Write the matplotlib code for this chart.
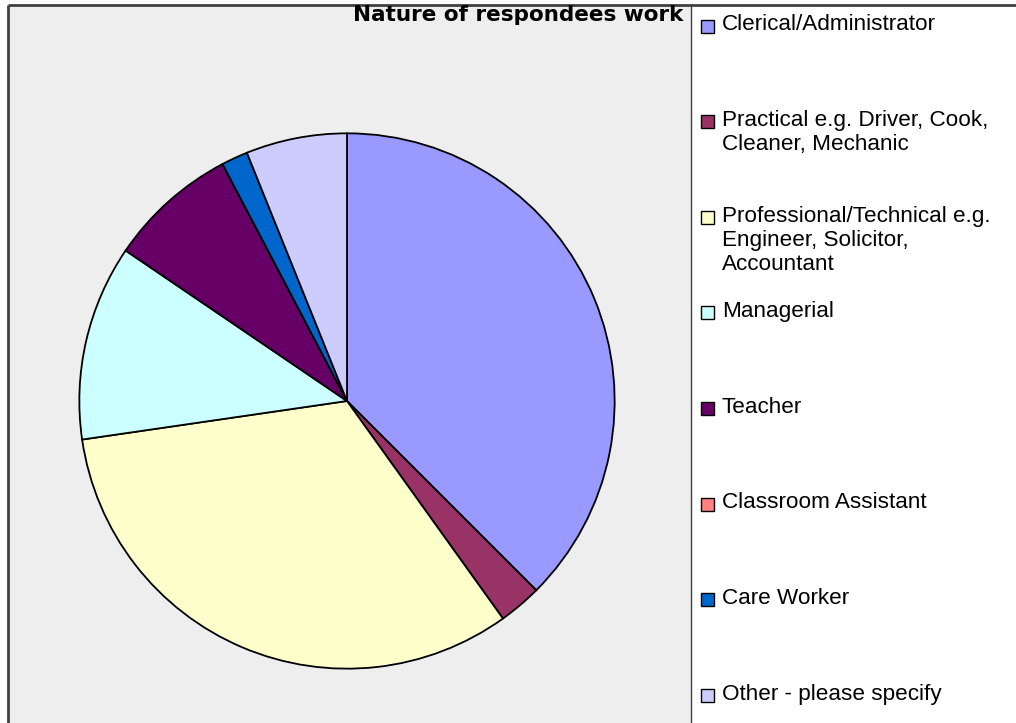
import matplotlib
matplotlib.use("Agg")
import matplotlib.pyplot as plt
from matplotlib.patches import Rectangle

# share of respondents per work type (%)
categories = [
    "Clerical/Administrator",
    "Practical e.g. Driver, Cook,\nCleaner, Mechanic",
    "Professional/Technical e.g.\nEngineer, Solicitor,\nAccountant",
    "Managerial",
    "Teacher",
    "Classroom Assistant",
    "Care Worker",
    "Other - please specify",
]
shares = [37.5, 2.6, 32.6, 11.8, 7.8, 0.0, 1.6, 6.1]
colors = ["#9999FF", "#993366", "#FFFFCC", "#CCFFFF",
          "#660066", "#FF8080", "#0066CC", "#CCCCFF"]
title = "Nature of respondees work"

W, H = 1016, 723
plt.rcParams["font.family"] = ["Liberation Sans", "DejaVu Sans"]

fig = plt.figure(figsize=(W / 100, H / 100), dpi=100)
fig.patch.set_facecolor("white")


def fx(px):
    return px / W


def fy(py):
    return 1 - py / H


# background axes in pixel coords for the grey plot area and frame lines
bg = fig.add_axes([0, 0, 1, 1], zorder=0)
bg.set_xlim(0, W)
bg.set_ylim(H, 0)
bg.axis("off")
bg.add_patch(Rectangle((8, 5), 691 - 8, H, facecolor="#EEEEEE", edgecolor="none"))
bg.plot([8, W], [5, 5], color="#404040", lw=2, solid_capstyle="butt")
bg.plot([8, 8], [5, H], color="#404040", lw=2, solid_capstyle="butt")
bg.plot([691, 691], [5, H], color="#404040", lw=1)

# pie: centre (347, 401), radius 269 px
cx, cy, r = 347, 401, 269
ax = fig.add_axes([fx(cx - r), fy(cy + r), 2 * r / W, 2 * r / H], zorder=1)
ax.pie(shares, colors=colors, startangle=90, counterclock=False,
       wedgeprops=dict(edgecolor="black", linewidth=1.3))
ax.set_xlim(-1.005, 1.005)
ax.set_ylim(-1.005, 1.005)
ax.axis("off")

bg.text(683, 15, title, ha="right", va="center",
        fontsize=15.5, fontweight="bold", family="DejaVu Sans")

# legend, drawn by hand so the wrapped labels sit like the original
for i, (lab, col) in enumerate(zip(categories, colors)):
    ym = 26 + i * 95.6
    bg.add_patch(Rectangle((701, ym - 6.5), 13, 13, facecolor=col,
                           edgecolor="black", lw=1))
    bg.text(722, ym - 11.5, lab, ha="left", va="top",
            fontsize=16.2, linespacing=1.2)

fig.savefig("out.png", dpi=100)
